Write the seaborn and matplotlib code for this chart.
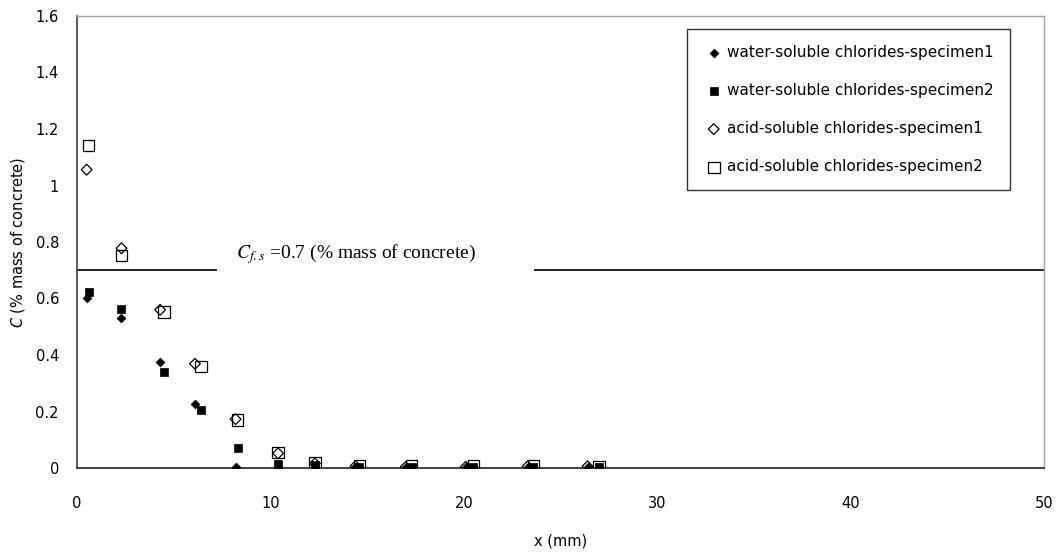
import matplotlib
matplotlib.use("Agg")
import matplotlib.pyplot as plt
import seaborn as sns
import pandas as pd

# ---- data ----
x_spec1 = [0.5, 2.3, 4.3, 6.1, 8.2, 10.4, 12.3, 14.4, 17.0, 20.1, 23.3, 26.4]
x_spec2 = [0.6, 2.3, 4.5, 6.4, 8.3, 10.4, 12.3, 14.6, 17.3, 20.5, 23.6, 27.0]

water_spec1 = [0.603, 0.532, 0.374, 0.228, 0.002, 0.005, 0.004, 0.003, 0.002, 0.002, 0.002, 0.004]
water_spec2 = [0.622, 0.562, 0.339, 0.204, 0.070, 0.014, 0.010, 0.004, 0.003, 0.003, 0.003, 0.002]
acid_spec1 = [1.056, 0.778, 0.560, 0.369, 0.173, 0.052, 0.016, 0.007, 0.004, 0.004, 0.006, 0.006]
acid_spec2 = [1.141, 0.752, 0.552, 0.359, 0.170, 0.055, 0.020, 0.008, 0.006, 0.006, 0.006, 0.003]

series_labels = [
    "water-soluble chlorides-specimen1",
    "water-soluble chlorides-specimen2",
    "acid-soluble chlorides-specimen1",
    "acid-soluble chlorides-specimen2",
]
threshold = 0.7
threshold_label = r"$C_{f.s}$ =0.7 (% mass of concrete)"
x_ticks = [0, 10, 20, 30, 40, 50]
y_ticks = [0, 0.2, 0.4, 0.6, 0.8, 1.0, 1.2, 1.4, 1.6]
y_tick_labels = ["0", "0.2", "0.4", "0.6", "0.8", "1", "1.2", "1.4", "1.6"]

# ---- styling ----
sns.set_style("white")
plt.rcParams["font.family"] = ["DejaVu Sans"]
plt.rcParams["mathtext.fontset"] = "stix"
plt.rcParams["text.color"] = "black"
plt.rcParams["axes.labelcolor"] = "black"
plt.rcParams["xtick.color"] = "black"
plt.rcParams["ytick.color"] = "black"

fig = plt.figure(figsize=(10.58, 5.52), dpi=100)
ax = fig.add_axes([77 / 1058, 1 - 468 / 552, (1044 - 77) / 1058, (468 - 16) / 552])

styles = [
    dict(marker="D", s=20, color="black", edgecolor="black", linewidth=0.5),
    dict(marker="s", s=28, color="black", edgecolor="black", linewidth=0.5),
    dict(marker="D", s=30, facecolor="none", edgecolor="black", linewidth=0.9),
    dict(marker="s", s=70, facecolor="none", edgecolor="black", linewidth=0.9),
]
xs = [x_spec1, x_spec2, x_spec1, x_spec2]
ys = [water_spec1, water_spec2, acid_spec1, acid_spec2]

for x, y, lab, st in zip(xs, ys, series_labels, styles):
    df = pd.DataFrame({"x": x, "y": y})
    sns.scatterplot(data=df, x="x", y="y", ax=ax, label=lab, zorder=3, **st)

# threshold line with label box
ax.axhline(threshold, color="black", linewidth=1.2, zorder=2)
ax.annotate(threshold_label + "         ", xy=(8.2, threshold), xytext=(0, 12),
            textcoords="offset points", ha="left", va="center",
            fontsize=14, family="Liberation Serif",
            bbox=dict(boxstyle="square,pad=0.95", fc="white", ec="none"), zorder=2.5)

ax.set_xlim(0, 50)
ax.set_ylim(0, 1.6)
ax.set_xticks(x_ticks)
ax.set_yticks(y_ticks)
ax.set_yticklabels(y_tick_labels)
ax.tick_params(axis="both", direction="out", length=5, width=1, color="#404040",
               labelsize=10.5, pad=8, labelcolor="black")
ax.tick_params(axis="x", pad=15)

ax.set_xlabel("x (mm)", fontsize=10.5, labelpad=16)
ax.set_ylabel(r"$\mathit{C}$ (% mass of concrete)", fontsize=10.5, labelpad=6,
              math_fontfamily="dejavusans")

for side in ["top", "right"]:
    ax.spines[side].set_color("#a0a0a0")
    ax.spines[side].set_linewidth(1)
ax.spines["left"].set_color("#404040")
ax.spines["left"].set_linewidth(1.2)
ax.spines["bottom"].set_color("#202020")
ax.spines["bottom"].set_linewidth(1.2)

leg = ax.legend(loc="upper right", bbox_to_anchor=(0.965, 0.972), frameon=True,
                fancybox=False, edgecolor="black", fontsize=11,
                labelspacing=1.52, handlelength=1.4, handletextpad=0.2,
                borderpad=1.05, borderaxespad=0)
leg.get_frame().set_linewidth(1.0)

fig.savefig("out.png", dpi=100)
